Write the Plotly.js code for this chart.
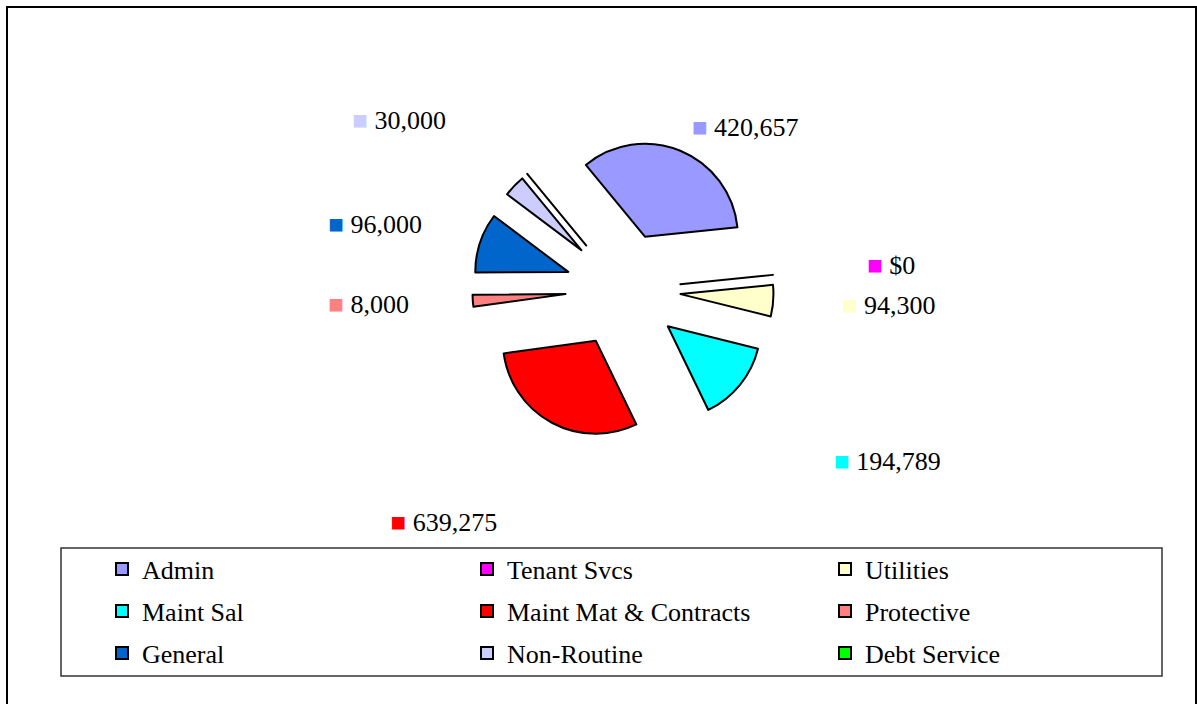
<!DOCTYPE html>
<html>
<head>
<meta charset="utf-8">
<script src="https://cdn.plot.ly/plotly-3.0.1.min.js"></script>
<style>
  html, body { margin: 0; padding: 0; background: #fff; }
  #chart { width: 1197px; height: 704px; }
</style>
</head>
<body>
<div id="chart"></div>
<script>
// ---- data ----
const categories = ["Admin", "Tenant Svcs", "Utilities", "Maint Sal", "Maint Mat & Contracts",
                    "Protective", "General", "Non-Routine", "Debt Service"];
// numbers printed on the slice labels
const valueLabels = ["420,657", "$0", "94,300", "194,789", "639,275", "8,000", "96,000", "30,000", ""];
// slice sizes as drawn (angular share of the pie, in degrees)
const sliceSizes = [122.5, 0, 19.5, 49.7, 107, 7.3, 37, 13.4, 0];
const colors = ["#9999FF", "#FF00FF", "#FFFFCC", "#00FFFF", "#FF0000",
                "#FF8080", "#0066CC", "#CCCCFF", "#00FF00"];

const W = 1197, H = 704;
const px = x => x / W;
const py = y => 1 - y / H;
const FONT = "Liberation Serif, Times New Roman, serif";

const sliceText = valueLabels.map((t, i) =>
  t ? '<span style="color:' + colors[i] + '">■</span> ' + t : "");

// the drawn, exploded pie
const pie = {
  type: "pie",
  labels: categories,
  values: sliceSizes,
  textinfo: "none",
  sort: false,
  direction: "clockwise",
  rotation: -39.5,
  pull: 0.62,
  marker: { colors: colors, line: { color: "#000", width: 2 } },
  domain: { x: [px(472.4), px(773.6)], y: [py(440.6), py(139.4)] },
  showlegend: false,
  hoverinfo: "none"
};

// same slices on a wider, invisible ring that carries the value labels further out
const labelRing = {
  type: "pie",
  labels: categories,
  values: sliceSizes,
  text: sliceText,
  textinfo: "text",
  textposition: "outside",
  sort: false,
  direction: "clockwise",
  rotation: -39.5,
  pull: [0, 0.47, 0.31, 0.62, 0.55, 0.28, 0.26, 0.45, 0],
  marker: { colors: colors.map(() => "rgba(0,0,0,0)"), line: { width: 0 } },
  outsidetextfont: { family: FONT, size: 26, color: "#000" },
  domain: { x: [px(360.6), px(885.4)], y: [py(552.4), py(27.6)] },
  showlegend: false,
  hoverinfo: "none"
};

// legend entries: one dummy trace and one legend box per category (3 x 3 grid)
const legendCols = [102, 467, 825];
const legendRows = [569, 611, 653];
const legendNames = categories.map((c, i) => i === 0 ? "legend" : "legend" + (i + 1));
const legendTraces = categories.map((c, i) => ({
  type: "scatter",
  mode: "markers",
  x: [null], y: [null],
  name: c,
  legend: legendNames[i],
  marker: { symbol: "square", size: 12, color: colors[i], line: { color: "#000", width: 2 } },
  hoverinfo: "none"
}));

const layout = {
  width: W, height: H,
  margin: { l: 0, r: 0, t: 0, b: 0 },
  paper_bgcolor: "#fff",
  plot_bgcolor: "#fff",
  xaxis: { visible: false },
  yaxis: { visible: false },
  shapes: [
    { type: "rect", xref: "paper", yref: "paper",
      x0: px(7), x1: px(1196), y0: py(7), y1: py(712),
      line: { color: "#000", width: 2 } },
    { type: "rect", xref: "paper", yref: "paper",
      x0: px(61), x1: px(1162), y0: py(548), y1: py(676),
      line: { color: "#333", width: 1.5 } }
  ]
};
legendNames.forEach((ln, i) => {
  layout[ln] = {
    orientation: "h",
    x: px(legendCols[i % 3]), xanchor: "left",
    y: py(legendRows[Math.floor(i / 3)]), yanchor: "middle",
    font: { family: FONT, size: 26, color: "#000" },
    bgcolor: "rgba(0,0,0,0)",
    borderwidth: 0,
    itemclick: false, itemdoubleclick: false
  };
});

Plotly.newPlot("chart", [labelRing, pie].concat(legendTraces), layout, { displayModeBar: false, staticPlot: true });
</script>
</body>
</html>
